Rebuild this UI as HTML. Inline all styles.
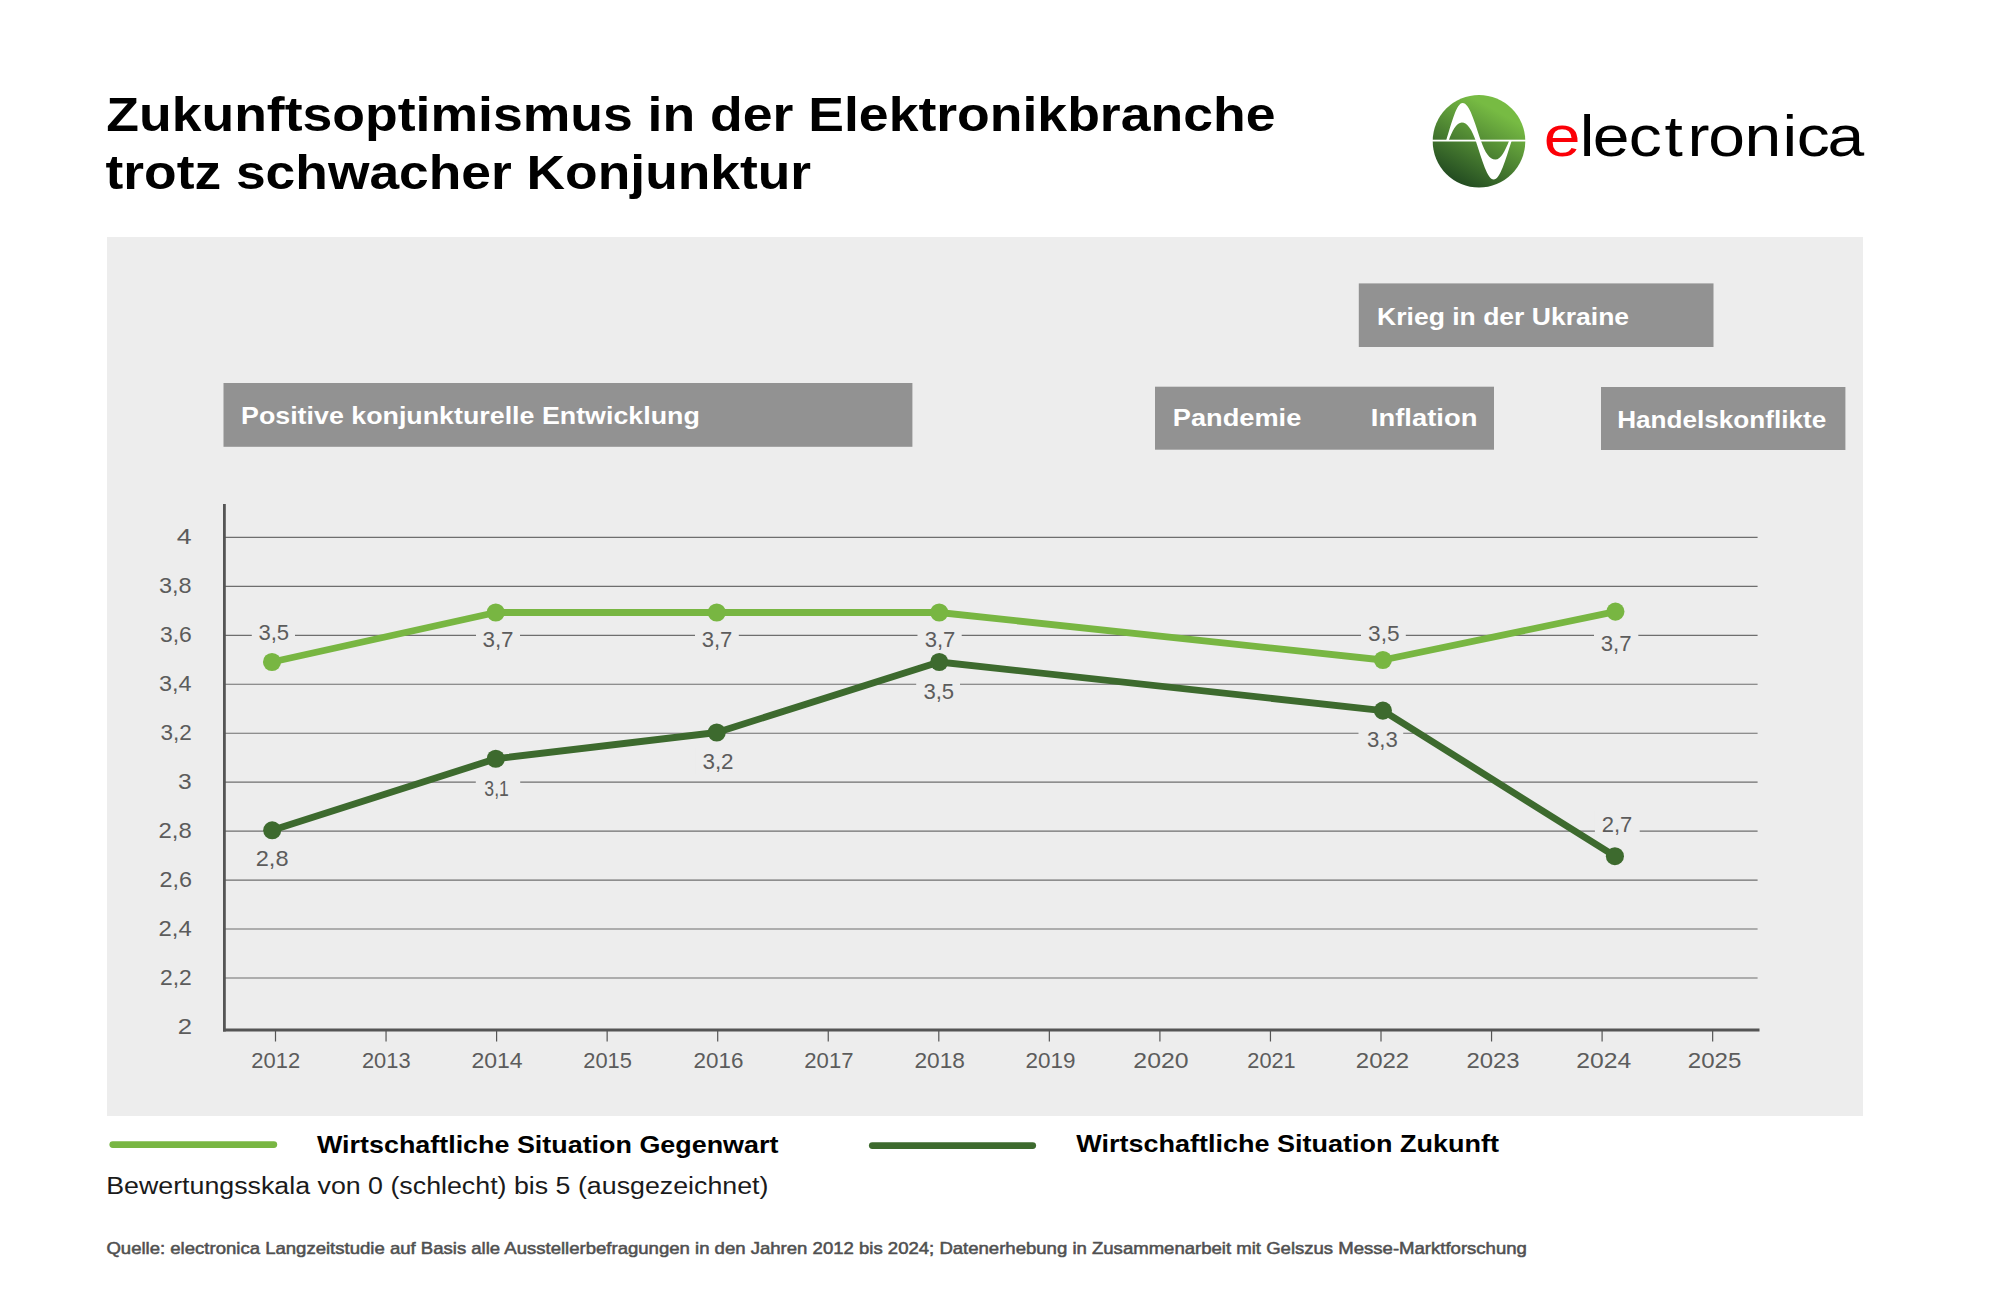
<!DOCTYPE html>
<html lang="de">
<head>
<meta charset="utf-8">
<title>Zukunftsoptimismus in der Elektronikbranche trotz schwacher Konjunktur</title>
<style>
html,body{margin:0;padding:0;background:#fff;}
body{width:2000px;height:1291px;overflow:hidden;position:relative;}
svg{position:absolute;left:0;top:0;display:block;}
text{font-family:"Liberation Sans",sans-serif;}
.b{font-weight:bold;}
</style>
</head>
<body>
<svg width="2000" height="1291" viewBox="0 0 2000 1291">
<defs>
<linearGradient id="lgG" gradientUnits="userSpaceOnUse" x1="1496.03" y1="110.62" x2="1456.47" y2="181.65">
<stop offset="0" stop-color="#77bb43"/>
<stop offset="1" stop-color="#234c21"/>
</linearGradient>
</defs>

<g id="title">
<text x="106.25" y="130.9" font-size="48" fill="#000" class="b" textLength="1169.17" lengthAdjust="spacingAndGlyphs">Zukunftsoptimismus in der Elektronikbranche</text>
<text x="105.56" y="189.1" font-size="48" fill="#000" class="b" textLength="705.57" lengthAdjust="spacingAndGlyphs">trotz schwacher Konjunktur</text>
</g>
<g id="logo">
<circle cx="1479" cy="141.2" r="46.3" fill="url(#lgG)"/>
<rect x="1432" y="139.7" width="94" height="1.8" fill="#fff"/>
<path fill="#fff" d="M1446,141 C1452,122 1456.5,103 1462.6,103 C1469.5,103 1474.5,122 1481,141 C1485,152.5 1489.5,159.6 1495.4,159.6 C1501,159.6 1505,151 1509,141 L1511.6,141 C1505.5,160 1500,179.6 1493.7,179.6 C1487.5,179.6 1482,160 1475.8,141 C1472,130 1467.5,122.5 1461.8,122.5 C1456.5,122.5 1452,131 1448.6,141 Z"/>
<text y="156.2" font-size="57.4" transform="scale(1.15,1)"><tspan fill="#fb0007" x="1342.46">e</tspan><tspan fill="#000" x="1373.81 1385.07 1416.28 1447.49 1467.43 1485.50 1516.91 1550.04 1562.37 1589.07">lectronica</tspan></text>
</g>
<rect x="107" y="237" width="1756" height="879" fill="#ededed"/>
<g id="events">
<rect x="223.5" y="383" width="688.9" height="63.8" fill="#929292"/>
<text x="241.03" y="424.4" font-size="24.4" fill="#fff" class="b" textLength="458.77" lengthAdjust="spacingAndGlyphs">Positive konjunkturelle Entwicklung</text>
<rect x="1358.8" y="283.4" width="354.7" height="63.6" fill="#929292"/>
<text x="1377.05" y="325.2" font-size="24.4" fill="#fff" class="b" textLength="252.05" lengthAdjust="spacingAndGlyphs">Krieg in der Ukraine</text>
<rect x="1155" y="386.7" width="339.0" height="63.0" fill="#929292"/>
<text x="1172.8" y="426" font-size="24.4" fill="#fff" class="b" textLength="128.52" lengthAdjust="spacingAndGlyphs">Pandemie</text>
<text x="1370.89" y="426" font-size="24.4" fill="#fff" class="b" textLength="106.51" lengthAdjust="spacingAndGlyphs">Inflation</text>
<rect x="1601" y="387" width="244.4" height="63.0" fill="#929292"/>
<text x="1617.18" y="428.1" font-size="24.4" fill="#fff" class="b" textLength="209.01" lengthAdjust="spacingAndGlyphs">Handelskonflikte</text>
</g>
<g id="grid">
<line x1="224.6" y1="537.40" x2="1757.6" y2="537.40" stroke="#6e6e6e" stroke-width="1.15"/>
<text x="176.71" y="544.3" font-size="21.8" fill="#5c5c5c" textLength="14.87" lengthAdjust="spacingAndGlyphs">4</text>
<line x1="224.6" y1="586.35" x2="1757.6" y2="586.35" stroke="#6e6e6e" stroke-width="1.15"/>
<text x="158.91" y="593.2" font-size="21.8" fill="#5c5c5c" textLength="32.71" lengthAdjust="spacingAndGlyphs">3,8</text>
<line x1="224.6" y1="635.30" x2="1757.6" y2="635.30" stroke="#6e6e6e" stroke-width="1.15"/>
<text x="159.93" y="642.2" font-size="21.8" fill="#5c5c5c" textLength="31.86" lengthAdjust="spacingAndGlyphs">3,6</text>
<line x1="224.6" y1="684.25" x2="1757.6" y2="684.25" stroke="#6e6e6e" stroke-width="1.15"/>
<text x="158.91" y="691.1" font-size="21.8" fill="#5c5c5c" textLength="32.57" lengthAdjust="spacingAndGlyphs">3,4</text>
<line x1="224.6" y1="733.20" x2="1757.6" y2="733.20" stroke="#6e6e6e" stroke-width="1.15"/>
<text x="160.44" y="740.1" font-size="21.8" fill="#5c5c5c" textLength="31.28" lengthAdjust="spacingAndGlyphs">3,2</text>
<line x1="224.6" y1="782.15" x2="1757.6" y2="782.15" stroke="#6e6e6e" stroke-width="1.15"/>
<text x="177.96" y="789.0" font-size="21.8" fill="#5c5c5c" textLength="13.7" lengthAdjust="spacingAndGlyphs">3</text>
<line x1="224.6" y1="831.10" x2="1757.6" y2="831.10" stroke="#6e6e6e" stroke-width="1.15"/>
<text x="158.5" y="838.0" font-size="21.8" fill="#5c5c5c" textLength="33.23" lengthAdjust="spacingAndGlyphs">2,8</text>
<line x1="224.6" y1="880.05" x2="1757.6" y2="880.05" stroke="#6e6e6e" stroke-width="1.15"/>
<text x="159.53" y="886.9" font-size="21.8" fill="#5c5c5c" textLength="32.48" lengthAdjust="spacingAndGlyphs">2,6</text>
<line x1="224.6" y1="929.00" x2="1757.6" y2="929.00" stroke="#6e6e6e" stroke-width="1.15"/>
<text x="158.51" y="935.9" font-size="21.8" fill="#5c5c5c" textLength="33.19" lengthAdjust="spacingAndGlyphs">2,4</text>
<line x1="224.6" y1="977.95" x2="1757.6" y2="977.95" stroke="#6e6e6e" stroke-width="1.15"/>
<text x="160.06" y="984.9" font-size="21.8" fill="#5c5c5c" textLength="31.79" lengthAdjust="spacingAndGlyphs">2,2</text>
<text x="177.72" y="1033.8" font-size="21.8" fill="#5c5c5c" textLength="14.27" lengthAdjust="spacingAndGlyphs">2</text>
</g>
<g id="datalabels">
<rect x="251.8" y="620" width="43.2" height="26" fill="#ededed"/>
<rect x="476.0" y="626" width="44.0" height="26" fill="#ededed"/>
<rect x="695.0" y="626" width="43.8" height="26" fill="#ededed"/>
<rect x="917.5" y="626" width="44.2" height="26" fill="#ededed"/>
<rect x="1361.0" y="620" width="44.8" height="26" fill="#ededed"/>
<rect x="1594.0" y="630" width="44.3" height="26" fill="#ededed"/>
<rect x="250.2" y="846" width="44.0" height="26" fill="#ededed"/>
<rect x="475.8" y="776" width="44.4" height="26" fill="#ededed"/>
<rect x="695.9" y="748" width="44.0" height="26" fill="#ededed"/>
<rect x="916.2" y="679" width="43.8" height="26" fill="#ededed"/>
<rect x="1358.5" y="726" width="44.7" height="26" fill="#ededed"/>
<rect x="1594.9" y="811" width="44.8" height="26" fill="#ededed"/>
<text x="258.41" y="640.1" font-size="22" fill="#5c5c5c" textLength="30.75" lengthAdjust="spacingAndGlyphs">3,5</text>
<text x="482.4" y="646.9" font-size="22" fill="#5c5c5c" textLength="31.23" lengthAdjust="spacingAndGlyphs">3,7</text>
<text x="701.66" y="646.9" font-size="22" fill="#5c5c5c" textLength="30.7" lengthAdjust="spacingAndGlyphs">3,7</text>
<text x="924.66" y="646.9" font-size="22" fill="#5c5c5c" textLength="30.7" lengthAdjust="spacingAndGlyphs">3,7</text>
<text x="1368.14" y="640.9" font-size="22" fill="#5c5c5c" textLength="31.49" lengthAdjust="spacingAndGlyphs">3,5</text>
<text x="1600.66" y="650.6" font-size="22" fill="#5c5c5c" textLength="30.86" lengthAdjust="spacingAndGlyphs">3,7</text>
<text x="255.72" y="866.4" font-size="22" fill="#5c5c5c" textLength="32.8" lengthAdjust="spacingAndGlyphs">2,8</text>
<text x="484.33" y="796.1" font-size="22" fill="#5c5c5c" textLength="24.52" lengthAdjust="spacingAndGlyphs">3,1</text>
<text x="702.4" y="768.6" font-size="22" fill="#5c5c5c" textLength="31.23" lengthAdjust="spacingAndGlyphs">3,2</text>
<text x="923.41" y="699.4" font-size="22" fill="#5c5c5c" textLength="30.75" lengthAdjust="spacingAndGlyphs">3,5</text>
<text x="1367.06" y="747.0" font-size="22" fill="#5c5c5c" textLength="30.8" lengthAdjust="spacingAndGlyphs">3,3</text>
<text x="1601.7" y="831.8" font-size="22" fill="#5c5c5c" textLength="30.6" lengthAdjust="spacingAndGlyphs">2,7</text>
</g>
<g id="axes">
<line x1="224.4" y1="504" x2="224.4" y2="1031.5" stroke="#555555" stroke-width="2.8"/>
<line x1="223" y1="1030" x2="1759.5" y2="1030" stroke="#555555" stroke-width="3"/>
<line x1="275.50" y1="1030" x2="275.50" y2="1041.5" stroke="#555555" stroke-width="1.2"/>
<text x="251.3" y="1068.2" font-size="22" fill="#5c5c5c" textLength="48.81" lengthAdjust="spacingAndGlyphs">2012</text>
<line x1="386.05" y1="1030" x2="386.05" y2="1041.5" stroke="#555555" stroke-width="1.2"/>
<text x="361.91" y="1068.2" font-size="22" fill="#5c5c5c" textLength="48.65" lengthAdjust="spacingAndGlyphs">2013</text>
<line x1="496.60" y1="1030" x2="496.60" y2="1041.5" stroke="#555555" stroke-width="1.2"/>
<text x="471.45" y="1068.2" font-size="22" fill="#5c5c5c" textLength="51.23" lengthAdjust="spacingAndGlyphs">2014</text>
<line x1="607.15" y1="1030" x2="607.15" y2="1041.5" stroke="#555555" stroke-width="1.2"/>
<text x="583.31" y="1068.2" font-size="22" fill="#5c5c5c" textLength="48.6" lengthAdjust="spacingAndGlyphs">2015</text>
<line x1="717.70" y1="1030" x2="717.70" y2="1041.5" stroke="#555555" stroke-width="1.2"/>
<text x="693.48" y="1068.2" font-size="22" fill="#5c5c5c" textLength="49.9" lengthAdjust="spacingAndGlyphs">2016</text>
<line x1="828.25" y1="1030" x2="828.25" y2="1041.5" stroke="#555555" stroke-width="1.2"/>
<text x="804.29" y="1068.2" font-size="22" fill="#5c5c5c" textLength="49.23" lengthAdjust="spacingAndGlyphs">2017</text>
<line x1="938.80" y1="1030" x2="938.80" y2="1041.5" stroke="#555555" stroke-width="1.2"/>
<text x="914.46" y="1068.2" font-size="22" fill="#5c5c5c" textLength="50.53" lengthAdjust="spacingAndGlyphs">2018</text>
<line x1="1049.35" y1="1030" x2="1049.35" y2="1041.5" stroke="#555555" stroke-width="1.2"/>
<text x="1025.48" y="1068.2" font-size="22" fill="#5c5c5c" textLength="49.99" lengthAdjust="spacingAndGlyphs">2019</text>
<line x1="1159.90" y1="1030" x2="1159.90" y2="1041.5" stroke="#555555" stroke-width="1.2"/>
<text x="1133.36" y="1068.2" font-size="22" fill="#5c5c5c" textLength="55.2" lengthAdjust="spacingAndGlyphs">2020</text>
<line x1="1270.45" y1="1030" x2="1270.45" y2="1041.5" stroke="#555555" stroke-width="1.2"/>
<text x="1247.31" y="1068.2" font-size="22" fill="#5c5c5c" textLength="48.34" lengthAdjust="spacingAndGlyphs">2021</text>
<line x1="1381.00" y1="1030" x2="1381.00" y2="1041.5" stroke="#555555" stroke-width="1.2"/>
<text x="1355.8" y="1068.2" font-size="22" fill="#5c5c5c" textLength="53.42" lengthAdjust="spacingAndGlyphs">2022</text>
<line x1="1491.55" y1="1030" x2="1491.55" y2="1041.5" stroke="#555555" stroke-width="1.2"/>
<text x="1466.41" y="1068.2" font-size="22" fill="#5c5c5c" textLength="53.14" lengthAdjust="spacingAndGlyphs">2023</text>
<line x1="1602.10" y1="1030" x2="1602.10" y2="1041.5" stroke="#555555" stroke-width="1.2"/>
<text x="1576.36" y="1068.2" font-size="22" fill="#5c5c5c" textLength="54.97" lengthAdjust="spacingAndGlyphs">2024</text>
<line x1="1712.65" y1="1030" x2="1712.65" y2="1041.5" stroke="#555555" stroke-width="1.2"/>
<text x="1687.8" y="1068.2" font-size="22" fill="#5c5c5c" textLength="53.61" lengthAdjust="spacingAndGlyphs">2025</text>
</g>
<g id="gegenwart">
<polyline fill="none" stroke="#78b642" stroke-width="6.8" stroke-linejoin="round" points="272,662 495.75,612.5 716.75,612.5 939.25,612.5 1382.9,660 1615.4,611.6"/>
<circle cx="272" cy="662" r="9.05" fill="#78b642"/>
<circle cx="495.75" cy="612.5" r="9.05" fill="#78b642"/>
<circle cx="716.75" cy="612.5" r="9.05" fill="#78b642"/>
<circle cx="939.25" cy="612.5" r="9.05" fill="#78b642"/>
<circle cx="1382.9" cy="660" r="9.05" fill="#78b642"/>
<circle cx="1615.4" cy="611.6" r="9.05" fill="#78b642"/>
</g>
<g id="zukunft">
<polyline fill="none" stroke="#3d6a2e" stroke-width="6.8" stroke-linejoin="round" points="272.2,830.3 495.75,758.75 716.75,732.5 939.25,662 1382.9,710.6 1614.9,856.2"/>
<circle cx="272.2" cy="830.3" r="9.05" fill="#3d6a2e"/>
<circle cx="495.75" cy="758.75" r="9.05" fill="#3d6a2e"/>
<circle cx="716.75" cy="732.5" r="9.05" fill="#3d6a2e"/>
<circle cx="939.25" cy="662" r="9.05" fill="#3d6a2e"/>
<circle cx="1382.9" cy="710.6" r="9.05" fill="#3d6a2e"/>
<circle cx="1614.9" cy="856.2" r="9.05" fill="#3d6a2e"/>
</g>
<g id="legend">
<line x1="112.75" y1="1144.55" x2="273.85" y2="1144.55" stroke="#78b642" stroke-width="6.7" stroke-linecap="round"/>
<text x="316.97" y="1152.9" font-size="24" fill="#000" class="b" textLength="461.36" lengthAdjust="spacingAndGlyphs">Wirtschaftliche Situation Gegenwart</text>
<line x1="872.25" y1="1145.6" x2="1032.75" y2="1145.6" stroke="#3d6a2e" stroke-width="6.7" stroke-linecap="round"/>
<text x="1076.17" y="1152" font-size="24" fill="#000" class="b" textLength="422.95" lengthAdjust="spacingAndGlyphs">Wirtschaftliche Situation Zukunft</text>
</g>
<text x="106.2" y="1194" font-size="23.5" fill="#1a1a1a" textLength="662.26" lengthAdjust="spacingAndGlyphs">Bewertungsskala von 0 (schlecht) bis 5 (ausgezeichnet)</text>
<text x="106.4" y="1254.1" font-size="15.9" fill="#505050" stroke="#505050" stroke-width="0.5" textLength="1420.5" lengthAdjust="spacingAndGlyphs">Quelle: electronica Langzeitstudie auf Basis alle Ausstellerbefragungen in den Jahren 2012 bis 2024; Datenerhebung in Zusammenarbeit mit Gelszus Messe-Marktforschung</text>
</svg>
</body>
</html>
